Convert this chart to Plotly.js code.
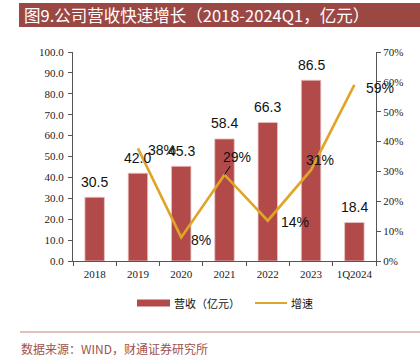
<!DOCTYPE html>
<html><head><meta charset="utf-8">
<script src="https://cdn.plot.ly/plotly-3.0.1.min.js"></script>
<style>html,body{margin:0;padding:0;background:#fff;}#chart{width:420px;height:362px;}</style>
</head><body><div id="chart"></div>
<script>
// ---- data ----
var categories = ['2018','2019','2020','2021','2022','2023','1Q2024'];
var revenue = [30.5, 42.0, 45.3, 58.4, 66.3, 86.5, 18.4];
var revenueLabels = ['30.5','42.0','45.3','58.4','66.3','86.5','18.4'];
var growthCats = ['2019','2020','2021','2022','2023','1Q2024'];
var growth = [0.377, 0.079, 0.289, 0.135, 0.305, 0.59];
var growthLabels = ['38%','8%','29%','14%','31%','59%'];
var leftTicks = [0,10,20,30,40,50,60,70,80,90,100];
var leftTickText = ['0.0','10.0','20.0','30.0','40.0','50.0','60.0','70.0','80.0','90.0','100.0'];
var rightTicks = [0,0.1,0.2,0.3,0.4,0.5,0.6,0.7];
var rightTickText = ['0%','10%','20%','30%','40%','50%','60%','70%'];
var titleText = '图9.公司营收快速增长（2018-2024Q1，亿元）';
var seriesNames = ['营收（亿元）','增速'];
var sourceText = '数据来源：WIND，财通证券研究所';

// ---- layout helpers (positions / styles) ----
var W = 420, H = 362, L = 73, R = 376, T = 52, B = 261;
function px(x){ return (x - L) / (R - L); }
function py(y){ return (B - y) / (B - T); }
var barColor = '#B34A4A';
var lineColor = '#E0A526';
var growthOffsets = [[24,-1.5],[20,-3],[12,18],[27,-1],[9,10],[26,-3]];
var sans = 'Liberation Sans, Arial, sans-serif';
var serif = 'Liberation Serif, Times New Roman, serif';
var cjk = 'Noto Sans CJK SC, sans-serif';

var traces = [
  {type:'bar', x:categories, y:revenue, name:seriesNames[0], marker:{color:barColor, line:{color:'#E9C3C3', width:0.8}},
   width:0.45, showlegend:false, hoverinfo:'skip'},
  {type:'scatter', mode:'lines', x:growthCats, y:growth, yaxis:'y2', name:seriesNames[1],
   line:{color:lineColor, width:2.6}, showlegend:false, hoverinfo:'skip'}
];

var annotations = [];
categories.forEach(function(c,i){
  annotations.push({x:i, y:revenue[i], xref:'x', yref:'y', text:revenueLabels[i], showarrow:false,
    yshift:15.5, font:{family:sans, size:14, color:'#111'}});
});
growthCats.forEach(function(c,i){
  var o = growthOffsets[i];
  var xi = categories.indexOf(c);
  if (i === 2) {
    annotations.push({x:xi, y:growth[i], xref:'x', yref:'y2', text:growthLabels[i], showarrow:true,
      arrowhead:0, arrowwidth:1, arrowcolor:'#000', ax:o[0], ay:-o[1], standoff:0,
      font:{family:sans, size:14, color:'#111'}});
  } else {
    annotations.push({x:xi, y:growth[i], xref:'x', yref:'y2', text:growthLabels[i], showarrow:false,
      xshift:o[0], yshift:o[1], font:{family:sans, size:14, color:'#111'}});
  }
});
// title
annotations.push({xref:'paper', yref:'paper', x:px(22), y:py(15), xanchor:'left', yanchor:'middle',
  text:titleText, showarrow:false, font:{family:cjk, size:16.5, color:'#fff'}});
// legend
annotations.push({xref:'paper', yref:'paper', x:px(172), y:py(303), xanchor:'left', yanchor:'middle',
  text:seriesNames[0], showarrow:false, font:{family:cjk, size:11, color:'#111'}});
annotations.push({xref:'paper', yref:'paper', x:px(289), y:py(303), xanchor:'left', yanchor:'middle',
  text:seriesNames[1], showarrow:false, font:{family:cjk, size:11, color:'#111'}});
// source
annotations.push({xref:'paper', yref:'paper', x:px(19), y:py(348), xanchor:'left', yanchor:'middle',
  text:sourceText, showarrow:false, font:{family:cjk, size:12, color:'#A0524E'}});

var shapes = [
  {type:'rect', xref:'paper', yref:'paper', x0:px(19), x1:px(421), y0:py(27), y1:py(3), fillcolor:'#9B4845', line:{width:0}, layer:'below'},
  {type:'rect', xref:'paper', yref:'paper', x0:px(137), x1:px(170), y0:py(306.5), y1:py(299.5), fillcolor:barColor, line:{width:0}},
  {type:'line', xref:'paper', yref:'paper', x0:px(255), x1:px(287), y0:py(303), y1:py(303), line:{color:lineColor, width:2}},
  {type:'line', xref:'paper', yref:'paper', x0:px(20), x1:px(421), y0:py(332), y1:py(332), line:{color:'#D9AAA7', width:1.5}}
];

var axisFont = {family:serif, size:11, color:'#222'};
var layout = {
  width:W, height:H, margin:{l:L, r:W-R, t:T, b:H-B, pad:0},
  paper_bgcolor:'#fff', plot_bgcolor:'#fff', showlegend:false, bargap:0.55,
  xaxis:{type:'category', categoryorder:'array', categoryarray:categories, range:[-0.5, categories.length-0.5],
    showline:true, linecolor:'#555', linewidth:1, tickangle:0, ticklabelstandoff:3,
    ticks:'outside', ticklen:4, tickcolor:'#555', tickson:'boundaries', tickfont:axisFont, showgrid:false, zeroline:false},
  yaxis:{range:[0,100], tickvals:leftTicks, ticktext:leftTickText, showline:true, linecolor:'#555', linewidth:1,
    ticks:'outside', ticklen:4, tickcolor:'#555', tickfont:axisFont, showgrid:false, zeroline:false, ticklabelstandoff:2},
  yaxis2:{range:[0,0.7], overlaying:'y', side:'right', tickvals:rightTicks, ticktext:rightTickText, showline:true,
    linecolor:'#555', linewidth:1, ticks:'outside', ticklen:4, tickcolor:'#555', tickfont:axisFont, showgrid:false, zeroline:false},
  annotations:annotations, shapes:shapes
};
Plotly.newPlot('chart', traces, layout, {staticPlot:true, displayModeBar:false});
</script></body></html>
